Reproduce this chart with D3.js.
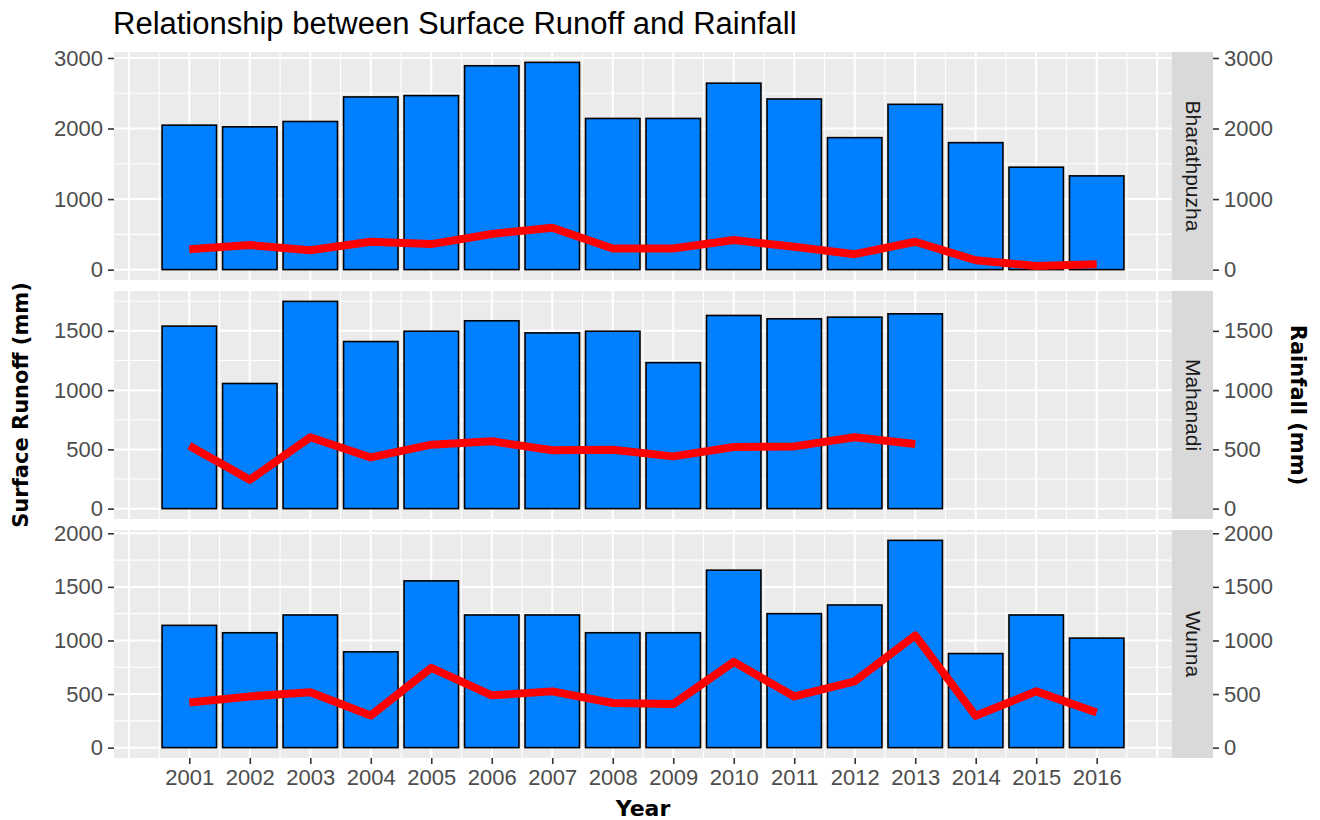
<!DOCTYPE html>
<html>
<head>
<meta charset="utf-8">
<script src="https://cdn.jsdelivr.net/npm/d3@7"></script>
<style>
  body { margin: 0; background: #fff; }
  svg { display: block; }
</style>
</head>
<body>
<svg id="chart"></svg>
<script>
// values
const years = [2001, 2002, 2003, 2004, 2005, 2006, 2007, 2008, 2009, 2010, 2011, 2012, 2013, 2014, 2015, 2016];
const basins = ['Bharathpuzha', 'Mahanadi', 'Wunna'];

const bharathBars = [2048, 2024, 2100, 2448, 2467, 2890, 2938, 2143, 2143, 2643, 2419, 1871, 2343, 1800, 1452, 1329];
const bharathLine = [290, 348, 276, 395, 362, 505, 595, 300, 300, 419, 324, 219, 395, 133, 52, 76];

const mahanadiBars = [1540, 1056, 1749, 1410, 1497, 1585, 1483, 1497, 1232, 1630, 1602, 1616, 1644];
const mahanadiLine = [531, 243, 602, 432, 540, 568, 492, 497, 441, 520, 525, 602, 545];

const wunnaBars = [1141, 1072, 1238, 894, 1556, 1238, 1238, 1072, 1072, 1656, 1250, 1331, 1934, 878, 1238, 1022];
const wunnaLine = [422, 478, 516, 300, 744, 488, 525, 416, 406, 800, 478, 619, 1047, 297, 525, 328];

const bharathTicks = [0, 1000, 2000, 3000];
const mahanadiTicks = [0, 500, 1000, 1500];
const wunnaTicks = [0, 500, 1000, 1500, 2000];

const titleText = 'Relationship between Surface Runoff and Rainfall';
const xTitle = 'Year';
const yTitleLeft = 'Surface Runoff (mm)';
const yTitleRight = 'Rainfall (mm)';

const panelData = [
    { name: basins[0], bars: bharathBars, line: bharathLine, ticks: bharathTicks },
    { name: basins[1], bars: mahanadiBars, line: mahanadiLine, ticks: mahanadiTicks },
    { name: basins[2], bars: wunnaBars, line: wunnaLine, ticks: wunnaTicks }
];

const width = 1320, height = 820;
const left = 114, right = 1172;
const panelTops = [52, 291, 530];
const panelH = 228;
const stripW = 41;
const tickFont = 'Liberation Sans, Arial, sans-serif';
const titleFont = 'DejaVu Sans, Verdana, sans-serif';

const svg = d3.select('#chart')
    .attr('width', width)
    .attr('height', height);

// x scale: bar extent with ggplot style 5% padding
let lo = years[0] - 0.45, hi = years[years.length - 1] + 0.45;
let pad = (hi - lo) * 0.05;
const x = d3.scaleLinear().domain([lo - pad, hi + pad]).range([left, right]);

// grid years incl. one extra each side, and half years
let gridYears = d3.range(years[0] - 1, years[years.length - 1] + 2).filter(v => v >= x.domain()[0] && v <= x.domain()[1]);
let gridHalf = gridYears.slice(0, -1).map(v => v + 0.5);

panelData.forEach((p, i) => {
    const top = panelTops[i];
    const maxV = d3.max(p.bars);
    const y = d3.scaleLinear()
        .domain([-0.05 * maxV, 1.05 * maxV])
        .range([top + panelH, top]);

    const g = svg.append('g');

    g.append('rect')
        .attr('x', left).attr('y', top)
        .attr('width', right - left).attr('height', panelH)
        .attr('fill', '#EBEBEB');

    // minor grid
    let minorY = [];
    for (let k = 0; k < p.ticks.length; k++) {
        let step = p.ticks[1] - p.ticks[0];
        minorY.push(p.ticks[k] + step / 2);
    }
    minorY = minorY.filter(v => v <= y.domain()[1]);

    g.selectAll('.minor-y').data(minorY).join('line')
        .attr('x1', left).attr('x2', right)
        .attr('y1', d => y(d)).attr('y2', d => y(d))
        .attr('stroke', '#fff').attr('stroke-width', 1.1);
    g.selectAll('.minor-x').data(gridHalf).join('line')
        .attr('x1', d => x(d)).attr('x2', d => x(d))
        .attr('y1', top).attr('y2', top + panelH)
        .attr('stroke', '#fff').attr('stroke-width', 1.1);

    // major grid
    g.selectAll('.major-y').data(p.ticks).join('line')
        .attr('x1', left).attr('x2', right)
        .attr('y1', d => y(d)).attr('y2', d => y(d))
        .attr('stroke', '#fff').attr('stroke-width', 2);
    g.selectAll('.major-x').data(gridYears).join('line')
        .attr('x1', d => x(d)).attr('x2', d => x(d))
        .attr('y1', top).attr('y2', top + panelH)
        .attr('stroke', '#fff').attr('stroke-width', 2);

    // bars
    const rows = p.bars.map((v, k) => ({ year: years[k], value: v, rain: p.line[k] }));
    g.selectAll('.bar').data(rows).join('rect')
        .attr('x', d => x(d.year - 0.45))
        .attr('y', d => y(d.value))
        .attr('width', d => x(d.year + 0.45) - x(d.year - 0.45))
        .attr('height', d => y(0) - y(d.value))
        .attr('fill', '#0080FF')
        .attr('stroke', '#000')
        .attr('stroke-width', 1.6);

    // line
    const line = d3.line().x(d => x(d.year)).y(d => y(d.rain));
    g.append('path')
        .datum(rows)
        .attr('d', line)
        .attr('fill', 'none')
        .attr('stroke', '#FF0000')
        .attr('stroke-width', 8)
        .attr('stroke-linejoin', 'round');

    // strip
    g.append('rect')
        .attr('x', right).attr('y', top)
        .attr('width', stripW).attr('height', panelH)
        .attr('fill', '#D9D9D9');
    g.append('text')
        .attr('transform', `translate(${right + stripW / 2 - 7},${top + panelH / 2}) rotate(90)`)
        .attr('text-anchor', 'middle')
        .attr('font-family', tickFont)
        .attr('font-size', 21)
        .attr('fill', '#1A1A1A')
        .text(p.name);

    // left axis
    const yl = g.append('g')
        .attr('transform', `translate(${left},0)`)
        .call(d3.axisLeft(y).tickValues(p.ticks).tickFormat(d3.format('d')).tickSize(6).tickPadding(5));
    // right axis (same values)
    const yr = g.append('g')
        .attr('transform', `translate(${right + stripW},0)`)
        .call(d3.axisRight(y).tickValues(p.ticks).tickFormat(d3.format('d')).tickSize(6).tickPadding(5));

    [yl, yr].forEach(ax => {
        ax.select('.domain').remove();
        ax.selectAll('line').attr('stroke', '#333').attr('stroke-width', 1.6);
        ax.selectAll('text')
            .attr('font-family', tickFont)
            .attr('font-size', 22)
            .attr('fill', '#4D4D4D');
    });

    if (i === panelData.length - 1) {
        const xa = g.append('g')
            .attr('transform', `translate(0,${top + panelH})`)
            .call(d3.axisBottom(x).tickValues(years).tickFormat(d3.format('d')).tickSize(6).tickPadding(5));
        xa.select('.domain').remove();
        xa.selectAll('line').attr('stroke', '#333').attr('stroke-width', 1.6);
        xa.selectAll('text')
            .attr('font-family', tickFont)
            .attr('font-size', 22)
            .attr('fill', '#4D4D4D');
    }
});

// titles
svg.append('text')
    .attr('x', 113).attr('y', 34)
    .attr('font-family', tickFont)
    .attr('font-size', 31)
    .attr('fill', '#000')
    .text(titleText);

const midY = (panelTops[0] + panelTops[2] + panelH) / 2;

svg.append('text')
    .attr('x', (left + right) / 2).attr('y', 816)
    .attr('text-anchor', 'middle')
    .attr('font-family', titleFont)
    .attr('font-weight', 'bold')
    .attr('font-size', 22)
    .attr('fill', '#000')
    .text(xTitle);

svg.append('text')
    .attr('transform', `translate(28,${midY}) rotate(-90)`)
    .attr('text-anchor', 'middle')
    .attr('font-family', titleFont)
    .attr('font-weight', 'bold')
    .attr('font-size', 21)
    .attr('fill', '#000')
    .text(yTitleLeft);

svg.append('text')
    .attr('transform', `translate(1291,${midY}) rotate(90)`)
    .attr('text-anchor', 'middle')
    .attr('font-family', titleFont)
    .attr('font-weight', 'bold')
    .attr('font-size', 21)
    .attr('fill', '#000')
    .text(yTitleRight);
</script>
</body>
</html>
